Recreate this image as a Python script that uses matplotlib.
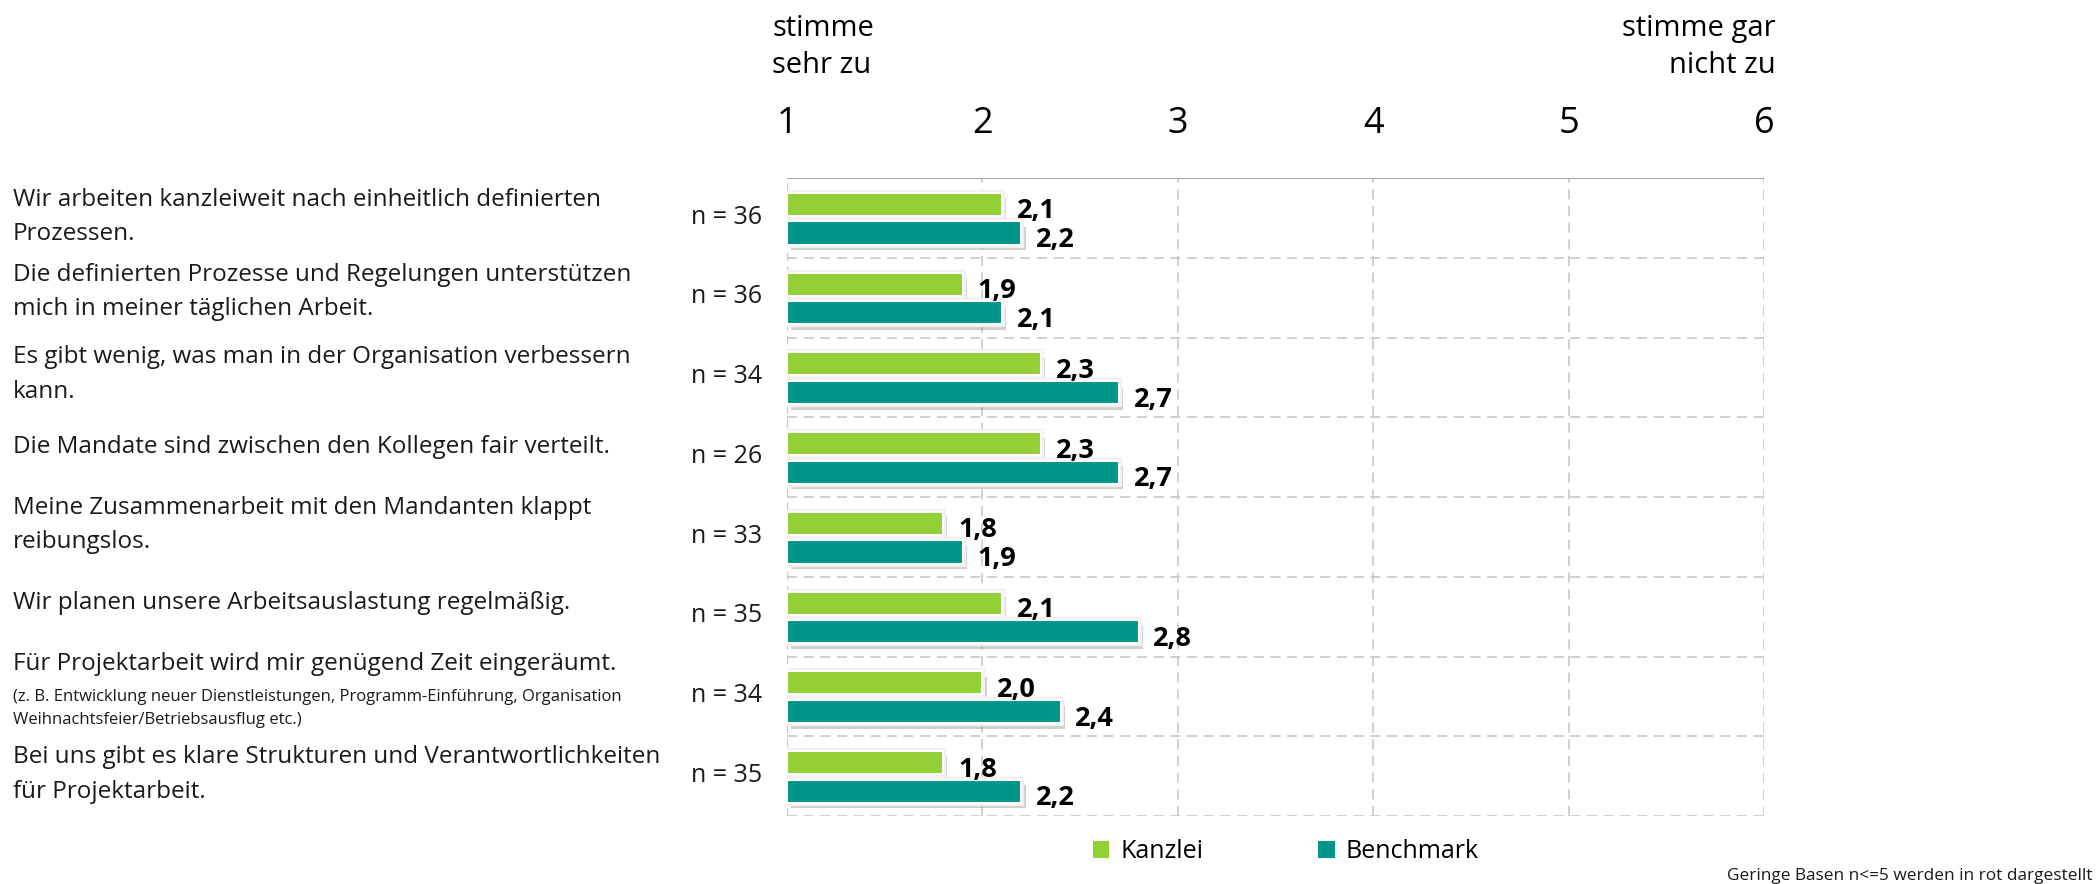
import matplotlib
matplotlib.use('Agg')
import matplotlib.pyplot as plt
import matplotlib.patheffects as pe
from matplotlib.patches import Patch
import numpy as np

plt.rcParams['font.family'] = ['Open Sans', 'DejaVu Sans']

# --- data ---
statements = [
    "Wir arbeiten kanzleiweit nach einheitlich definierten\nProzessen.",
    "Die definierten Prozesse und Regelungen unterstützen\nmich in meiner täglichen Arbeit.",
    "Es gibt wenig, was man in der Organisation verbessern\nkann.",
    "Die Mandate sind zwischen den Kollegen fair verteilt.",
    "Meine Zusammenarbeit mit den Mandanten klappt\nreibungslos.",
    "Wir planen unsere Arbeitsauslastung regelmäßig.",
    "Für Projektarbeit wird mir genügend Zeit eingeräumt.",
    "Bei uns gibt es klare Strukturen und Verantwortlichkeiten\nfür Projektarbeit.",
]
sub_notes = ["", "", "", "", "", "",
             "(z. B. Entwicklung neuer Dienstleistungen, Programm-Einführung, Organisation\n"
             "Weihnachtsfeier/Betriebsausflug etc.)",
             ""]
n_counts = [36, 36, 34, 26, 33, 35, 34, 35]
kanzlei = [2.1, 1.9, 2.3, 2.3, 1.8, 2.1, 2.0, 1.8]
benchmark = [2.2, 2.1, 2.7, 2.7, 1.9, 2.8, 2.4, 2.2]
scale_ticks = [1, 2, 3, 4, 5, 6]
series_names = ["Kanzlei", "Benchmark"]

green = '#92D036'
teal = '#00958A'
grid_col = '#c8c8c8'

fig = plt.figure(figsize=(20.97, 8.84), dpi=100)
ax = fig.add_axes([787 / 2097, 1 - 816 / 884, (1764 - 787) / 2097, (816 - 178) / 884])

ypos = np.arange(len(statements)) + 0.5
bar_h = 0.29
# soft shadow + faint glow around the bars like the original
bar_fx = [pe.SimplePatchShadow(offset=(3, -4), shadow_rgbFace='#7a7a7a', alpha=0.35),
          pe.Stroke(linewidth=4.5, foreground='#f1f1f1'),
          pe.Normal()]

for vals, col, off in [(kanzlei, green, -0.17), (benchmark, teal, 0.19)]:
    bars = ax.barh(ypos + off, np.array(vals) - 1, left=1, height=bar_h,
                   color=col, edgecolor='white', linewidth=1.5, zorder=3)
    for b in bars:
        b.set_path_effects(bar_fx)
    for y, v in zip(ypos + off, vals):
        ax.text(v + 0.075, y + 0.09, f"{v:.1f}".replace('.', ','), ha='left', va='center',
                fontsize=19.5, fontweight='bold', color='black', zorder=4)

ax.set_xlim(1, 6)
ax.set_ylim(len(statements), 0)

# grid
for x in scale_ticks[1:]:
    ax.axvline(x, color=grid_col, lw=1.2, ls=(0, (6, 4)), zorder=1)
for y in range(1, len(statements) + 1):
    ax.axhline(y, color=grid_col, lw=1.2, ls=(0, (6, 4)), zorder=1)
ax.axvline(1, color=grid_col, lw=1.0, ls=(0, (6, 4)), zorder=1)
for s in ax.spines.values():
    s.set_visible(False)
ax.axhline(0, color='#a6a6a6', lw=1.5, zorder=2)

ax.set_xticks(scale_ticks)
ax.set_xticklabels([str(t) for t in scale_ticks])
ax.xaxis.tick_top()
ax.tick_params(axis='x', length=0, labelsize=26, pad=26)
ax.set_yticks([])

# row labels and n counts (x in axes fraction, y in data)
lab_x = (13 - 787) / 977
n_x = (762 - 787) / 977
label_shift = [-0.01, -0.07, -0.04, -0.13, -0.15, -0.17, -0.41, -0.02]
tr = ax.get_yaxis_transform()
for i, (txt, note, n) in enumerate(zip(statements, sub_notes, n_counts)):
    ax.text(lab_x, ypos[i] + label_shift[i], txt, transform=tr,
            ha='left', va='center', fontsize=17.5, linespacing=1.6, color='#1a1a1a')
    if note:
        ax.text(lab_x, ypos[i] + 0.15, note, transform=tr,
                ha='left', va='center', fontsize=12, linespacing=1.6, color='#1a1a1a')
    ax.text(n_x, ypos[i] - 0.01, f"n = {n}", transform=tr,
            ha='right', va='center', fontsize=18, color='#1a1a1a')

fig.text(772 / 2097, 1 - 47 / 884, "stimme\nsehr zu", ha='left', va='center',
         fontsize=21, linespacing=1.32)
fig.text(1776 / 2097, 1 - 47 / 884, "stimme gar\nnicht zu", ha='right', va='center',
         fontsize=21, linespacing=1.32)

handles = [Patch(facecolor=green, edgecolor='none'), Patch(facecolor=teal, edgecolor='none')]
fig.legend(handles, series_names, loc='center', bbox_to_anchor=(1286 / 2097, 1 - 852 / 884),
           ncol=2, frameon=False, fontsize=18, handlelength=0.65, handleheight=0.65,
           handletextpad=0.45, columnspacing=4.6)

fig.text(0.998, 1 - 876 / 884, "Geringe Basen n<=5 werden in rot dargestellt",
         ha='right', va='center', fontsize=12.4, color='#1a1a1a')

fig.savefig('out.png', dpi=100)
